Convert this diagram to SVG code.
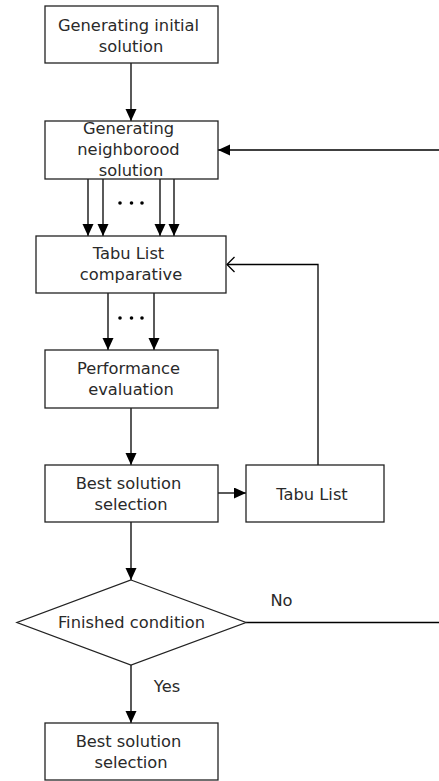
<svg xmlns="http://www.w3.org/2000/svg" width="439" height="781" viewBox="0 0 439 781">
  <style>
    .box { fill: #fff; stroke: #222; stroke-width: 1.3; }
    .lbl { font-family: "DejaVu Sans", "Liberation Sans", sans-serif; font-size: 16.3px; fill: #2a2a2a; text-anchor: middle; }
    .edge { fill: none; stroke: #000; stroke-width: 1.3; }
    .dot { fill: #000; }
  </style>
  <defs>
    <marker id="arrow" markerUnits="userSpaceOnUse" markerWidth="13" markerHeight="12" refX="12" refY="5.5" orient="auto">
      <path d="M0,0 L12,5.5 L0,11 z" fill="#000"/>
    </marker>
    <marker id="open" markerUnits="userSpaceOnUse" markerWidth="10" markerHeight="17" refX="8" refY="8" orient="auto">
      <path d="M0.5,0.5 L8,8 L0.5,15.5" fill="none" stroke="#000" stroke-width="1.3"/>
    </marker>
  </defs>
  <rect width="439" height="781" fill="#fff"/>

  <!-- connectors -->
  <g id="connectors">
    <line class="edge" x1="131" y1="63" x2="131" y2="121" marker-end="url(#arrow)"/>
    <line class="edge" x1="439" y1="150" x2="218" y2="150" marker-end="url(#arrow)"/>
    <line class="edge" x1="88" y1="179" x2="88" y2="236" marker-end="url(#arrow)"/>
    <line class="edge" x1="103" y1="179" x2="103" y2="236" marker-end="url(#arrow)"/>
    <line class="edge" x1="160" y1="179" x2="160" y2="236" marker-end="url(#arrow)"/>
    <line class="edge" x1="174" y1="179" x2="174" y2="236" marker-end="url(#arrow)"/>
    <circle class="dot" cx="120" cy="203" r="1.8"/>
    <circle class="dot" cx="131.5" cy="203" r="1.8"/>
    <circle class="dot" cx="142" cy="203" r="1.8"/>
    <line class="edge" x1="108" y1="293" x2="108" y2="350" marker-end="url(#arrow)"/>
    <line class="edge" x1="154" y1="293" x2="154" y2="350" marker-end="url(#arrow)"/>
    <circle class="dot" cx="120" cy="318" r="1.8"/>
    <circle class="dot" cx="131.5" cy="318" r="1.8"/>
    <circle class="dot" cx="142" cy="318" r="1.8"/>
    <line class="edge" x1="131" y1="408" x2="131" y2="465" marker-end="url(#arrow)"/>
    <line class="edge" x1="218" y1="493" x2="246" y2="493" marker-end="url(#arrow)"/>
    <polyline class="edge" points="318,465 318,264.5 227,264.5" marker-end="url(#open)"/>
    <line class="edge" x1="131" y1="522" x2="131" y2="580" marker-end="url(#arrow)"/>
    <line class="edge" x1="246" y1="622.5" x2="439" y2="622.5"/>
    <line class="edge" x1="131" y1="665" x2="131" y2="723" marker-end="url(#arrow)"/>
    <text class="lbl" x="281.5" y="606">No</text>
    <text class="lbl" x="167" y="692">Yes</text>
  </g>

  <g id="init">
    <rect class="box" x="45" y="6" width="173" height="57"/>
    <text class="lbl" x="128.5" y="30.5">Generating initial</text>
    <text class="lbl" x="131" y="51.5">solution</text>
  </g>

  <g id="neighborhood">
    <rect class="box" x="45" y="121" width="173" height="58"/>
    <text class="lbl" x="128.5" y="133.5">Generating</text>
    <text class="lbl" x="128.5" y="155">neighborood</text>
    <text class="lbl" x="131" y="175.5">solution</text>
  </g>

  <g id="tabu-compare">
    <rect class="box" x="36" y="236" width="190" height="57"/>
    <text class="lbl" x="128.5" y="258.5">Tabu List</text>
    <text class="lbl" x="131" y="279.5">comparative</text>
  </g>

  <g id="evaluation">
    <rect class="box" x="45" y="350" width="173" height="58"/>
    <text class="lbl" x="128.5" y="373.5">Performance</text>
    <text class="lbl" x="131" y="394.5">evaluation</text>
  </g>

  <g id="best-selection">
    <rect class="box" x="45" y="465" width="173" height="57"/>
    <text class="lbl" x="128.5" y="488.5">Best solution</text>
    <text class="lbl" x="131" y="509.5">selection</text>
  </g>

  <g id="tabu-list">
    <rect class="box" x="246" y="465" width="138" height="57"/>
    <text class="lbl" x="312" y="499.5">Tabu List</text>
  </g>

  <g id="finished">
    <polygon class="box" points="131,580 246,622.5 131,665 17,622.5"/>
    <text class="lbl" x="131.5" y="628">Finished condition</text>
  </g>

  <g id="best-final">
    <rect class="box" x="45" y="723" width="173" height="57"/>
    <text class="lbl" x="128.5" y="746.5">Best solution</text>
    <text class="lbl" x="131" y="767.5">selection</text>
  </g>
</svg>
